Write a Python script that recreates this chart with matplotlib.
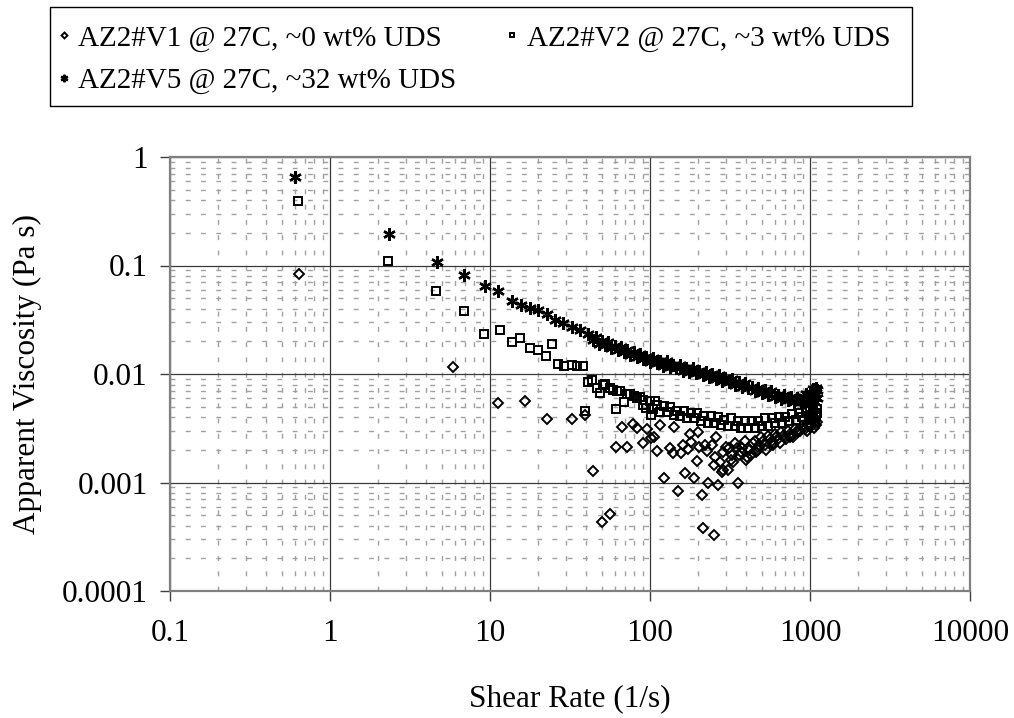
import matplotlib
matplotlib.use("Agg")
import matplotlib.pyplot as plt
from matplotlib.patches import Rectangle
from matplotlib.ticker import LogLocator, NullFormatter

plt.rcParams.update({
    "font.family": ["Liberation Serif", "DejaVu Serif"],
    "font.size": 22.5,
})

# ── Data ──────────────────────────────────────────────────────
v1_rate = [0.643, 5.85, 11.3, 16.5, 22.6, 32.7, 39.2, 43.8, 50.3, 56.5,
           61.7, 67.1, 71.4, 78, 83.2, 90, 95.3, 101, 106, 110,
           115, 123, 133, 139, 141, 150, 156, 160, 166, 174,
           178, 180, 189, 196, 200, 203, 212, 215, 221, 226,
           231, 243, 251, 252, 260, 267, 274, 280, 287, 299,
           306, 319, 330, 348, 356, 360, 378, 397, 402, 417,
           438, 460, 475, 483, 507, 532, 559, 587, 590, 616,
           647, 679, 713, 749, 750, 786, 825, 866, 910, 955,
           980, 1000, 1003, 1030, 1053, 1080, 1100, 255, 285, 310,
           325, 340, 370, 390, 410, 425, 450, 470, 495, 520,
           545, 575, 600, 630, 660, 695, 730, 765, 805, 845,
           888, 930, 970, 1015, 1065, 1095, 1040]
v1_visc = [0.084, 0.0115, 0.0054, 0.0056, 0.00385, 0.00385, 0.0042, 0.00128, 0.00043, 0.00051,
           0.00211, 0.00323, 0.00211, 0.00345, 0.00316, 0.00233, 0.0031, 0.00255, 0.0026, 0.00197,
           0.0034, 0.00109, 0.00207, 0.00186, 0.00328, 0.00084, 0.00186, 0.00222, 0.00123, 0.00202,
           0.0028, 0.00238, 0.00109, 0.00158, 0.0029, 0.00211, 0.00077, 0.00038, 0.00222, 0.00197,
           0.0010, 0.00222, 0.00145, 0.00033, 0.0026, 0.00095, 0.00156, 0.00126, 0.0013, 0.00211,
           0.0013, 0.00161, 0.00156, 0.00207, 0.0010, 0.0018, 0.0021, 0.0016, 0.00173, 0.0020,
           0.0023, 0.0019, 0.00211, 0.0022, 0.0024, 0.0020, 0.0025, 0.0022, 0.0023, 0.0026,
           0.0023, 0.0027, 0.0025, 0.0028, 0.00265, 0.0026, 0.0030, 0.00296, 0.0032, 0.0030,
           0.0035, 0.00327, 0.0034, 0.0037, 0.0032, 0.0039, 0.0036, 0.0017, 0.0019, 0.0021,
           0.0018, 0.0023, 0.0019, 0.0024, 0.0021, 0.0018, 0.0024, 0.0020, 0.0026, 0.0022,
           0.0027, 0.0024, 0.0028, 0.0025, 0.0029, 0.0026, 0.0030, 0.0027, 0.0031, 0.0029,
           0.0033, 0.0031, 0.0034, 0.0033, 0.0036, 0.0034, 0.0040]

v2_rate = [0.634, 2.30, 4.58, 6.85, 9.13, 11.5, 13.7, 15.4, 17.8, 19.9,
           22.3, 24.3, 26.7, 29.1, 32.4, 35.1, 37.9, 39.4, 40.8, 43.2,
           46.4, 48.7, 50.5, 52.4, 56.2, 59, 61, 62.5, 65, 68.8,
           72, 75, 79, 83, 86.6, 90, 90.8, 95, 100, 102,
           105, 107, 110, 116, 122, 128, 134, 141, 148, 155,
           163, 171, 180, 189, 198, 208, 218, 229, 241, 253,
           265, 278, 292, 307, 322, 338, 355, 373, 391, 411,
           431, 453, 475, 499, 524, 550, 578, 607, 637, 669,
           702, 737, 774, 813, 853, 896, 941, 960, 988, 1000,
           1020, 1037, 1050, 1080, 1089, 1100, 1100]
v2_visc = [0.393, 0.111, 0.0586, 0.0383, 0.0232, 0.0253, 0.0196, 0.0213, 0.0172, 0.0165,
           0.0147, 0.0188, 0.0123, 0.0119, 0.0121, 0.0119, 0.0119, 0.0046, 0.0085, 0.0088,
           0.0074, 0.0067, 0.0079, 0.0081, 0.0074, 0.0071, 0.0048, 0.0069, 0.0069, 0.0055,
           0.0066, 0.0066, 0.0063, 0.0060, 0.0062, 0.0057, 0.0052, 0.0049, 0.0056, 0.0042,
           0.0048, 0.0056, 0.0052, 0.0045, 0.0051, 0.0045, 0.0050, 0.0042, 0.0046, 0.0041,
           0.0046, 0.0039, 0.0044, 0.0039, 0.0044, 0.0037, 0.0041, 0.0035, 0.0041, 0.0035,
           0.0040, 0.0034, 0.0038, 0.0033, 0.0039, 0.0033, 0.0037, 0.0032, 0.0037, 0.0032,
           0.0037, 0.0032, 0.0037, 0.0033, 0.0039, 0.0033, 0.0039, 0.0035, 0.0040, 0.0035,
           0.0040, 0.0037, 0.0043, 0.0038, 0.0044, 0.0040, 0.0046, 0.0049, 0.0040, 0.0050,
           0.0038, 0.0047, 0.0052, 0.0036, 0.0042, 0.0048, 0.0044]

v5_rate = [0.6, 2.33, 4.64, 6.9, 9.3, 11.3, 13.8, 15.6, 17.8, 20,
           22.6, 25.5, 28.7, 32.4, 36.5, 41, 44, 46, 48, 50,
           52, 55, 57, 60, 63, 66, 69, 72, 75, 79,
           83, 87, 91, 95, 100, 105, 110, 115, 121, 127,
           133, 139, 146, 153, 160, 168, 176, 185, 194, 203,
           213, 223, 234, 245, 257, 270, 283, 296, 311, 326,
           341, 358, 375, 393, 412, 432, 453, 475, 498, 522,
           547, 573, 601, 630, 660, 692, 725, 760, 797, 835,
           875, 917, 950, 961, 990, 1007, 1020, 1040, 1055, 1070,
           1080, 1090, 1100, 1100]
v5_visc = [0.65, 0.196, 0.108, 0.081, 0.065, 0.058, 0.047, 0.043, 0.041, 0.039,
           0.036, 0.0315, 0.0293, 0.027, 0.0255, 0.0234, 0.0205, 0.0217, 0.0191, 0.0202,
           0.0186, 0.0198, 0.0174, 0.0182, 0.0166, 0.0177, 0.0160, 0.0167, 0.0150, 0.0158,
           0.0143, 0.0154, 0.0138, 0.0142, 0.0128, 0.0139, 0.0126, 0.0132, 0.0119, 0.0131,
           0.0116, 0.0121, 0.0113, 0.0121, 0.0107, 0.0114, 0.0105, 0.0113, 0.0102, 0.0106,
           0.0097, 0.0105, 0.0094, 0.0099, 0.0090, 0.0098, 0.0087, 0.0091, 0.0084, 0.0089,
           0.0079, 0.0084, 0.0076, 0.0083, 0.0074, 0.0076, 0.0069, 0.0075, 0.0067, 0.0071,
           0.0064, 0.0070, 0.0062, 0.0064, 0.0059, 0.0064, 0.0058, 0.0061, 0.0055, 0.0060,
           0.0055, 0.0062, 0.0065, 0.0058, 0.0052, 0.0068, 0.0057, 0.0072, 0.0063, 0.0055,
           0.0066, 0.0075, 0.0071, 0.0060]

labels = ["AZ2#V1 @ 27C, ~0 wt% UDS",
          "AZ2#V2 @ 27C, ~3 wt% UDS",
          "AZ2#V5 @ 27C, ~32 wt% UDS"]

x_ticks = [0.1, 1, 10, 100, 1000, 10000]
x_ticklabels = ["0.1", "1", "10", "100", "1000", "10000"]
y_ticks = [0.0001, 0.001, 0.01, 0.1, 1]
y_ticklabels = ["0.0001", "0.001", "0.01", "0.1", "1"]

# ── Figure ────────────────────────────────────────────────────
W, H = 1014, 718
fig = plt.figure(figsize=(W / 100, H / 100), dpi=100)
ax = fig.add_axes([170 / W, 1 - 591 / H, 800 / W, 434 / H])
ax.set_xscale("log")
ax.set_yscale("log")
ax.set_xlim(0.1, 10000)
ax.set_ylim(0.0001, 1)

# grid: solid major, dashed minor (Excel look)
ax.xaxis.set_minor_locator(LogLocator(base=10, subs=range(2, 10), numticks=50))
ax.yaxis.set_minor_locator(LogLocator(base=10, subs=range(2, 10), numticks=50))
ax.xaxis.set_minor_formatter(NullFormatter())
ax.yaxis.set_minor_formatter(NullFormatter())
ax.grid(which="major", color="#3a3a3a", linewidth=0.9, linestyle="-")
ax.grid(which="minor", color="#a0a0a0", linewidth=1.0, linestyle=(0, (3.5, 7.5)))
ax.set_axisbelow(True)

ax.set_xticks(x_ticks)
ax.set_xticklabels(x_ticklabels)
ax.set_yticks(y_ticks)
ax.set_yticklabels(y_ticklabels)
ax.tick_params(which="major", direction="out", length=7, width=1,
               color="#404040", labelsize=22.5)
ax.tick_params(axis="x", pad=13)
ax.tick_params(axis="y", pad=9)
ax.tick_params(which="minor", length=0)

for s in ax.spines.values():
    s.set_color("#808080")
    s.set_linewidth(1.6)

# series
common = dict(linestyle="none", color="black", markerfacecolor="none", clip_on=False)
h1, = ax.plot(v1_rate, v1_visc, marker="D", markersize=5.0, markeredgewidth=1.4, **common)
h2, = ax.plot(v2_rate, v2_visc, marker="s", markersize=5.4, markeredgewidth=1.4, **common)
h5, = ax.plot(v5_rate, v5_visc, marker=(6, 2, 0), markersize=9, markeredgewidth=1.7, **common)

ax.set_xlabel("Shear Rate (1/s)", fontsize=22.5, labelpad=26)
ax.set_ylabel("Apparent Viscosity (Pa s)", fontsize=22.5, labelpad=14)

# legend box drawn separately so the frame can sit exactly where Excel put it
fig.patches.append(Rectangle((50 / W, 1 - 106 / H), 862 / W, 99 / H,
                             transform=fig.transFigure, fill=False,
                             edgecolor="black", linewidth=1.0))
# row order V1, V2 / V5 -> column fill needs V1, V5, V2
leg = fig.legend([h1, h5, h2], [labels[0], labels[2], labels[1]], ncol=2,
                 loc="upper left", bbox_to_anchor=(58 / W, 1 - 25 / H),
                 borderaxespad=0, fontsize=21, markerscale=0.6,
                 handlelength=0.4, handletextpad=0.3, labelspacing=0.55,
                 borderpad=0, columnspacing=1.7, frameon=False)

fig.savefig("out.png", dpi=100)
